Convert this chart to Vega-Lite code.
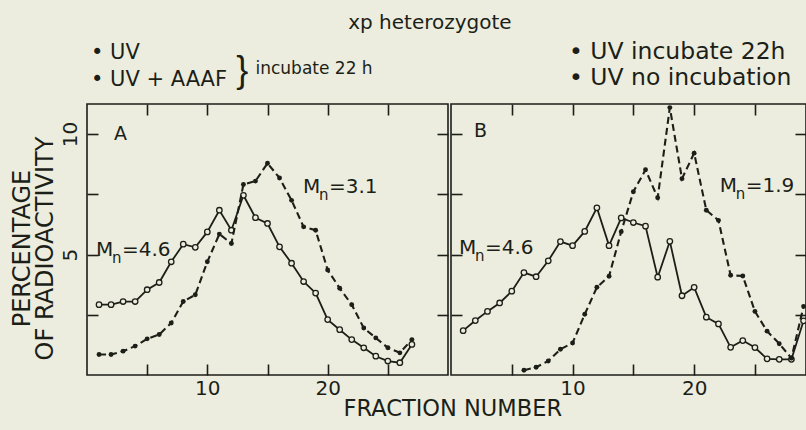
{
  "$schema": "https://vega.github.io/schema/vega-lite/v6.json",
  "background": "#ecedde",
  "padding": {"left": 9, "top": 12, "right": 0, "bottom": 16},
  "bounds": "flush",
  "spacing": 3,
  "config": {
    "view": {"stroke": "#1c1f18", "strokeWidth": 1.6},
    "axis": {"domain": false, "grid": false, "tickColor": "#1c1f18", "tickWidth": 1.6, "tickSize": -11, "labelFont": "DejaVu Sans", "labelFontSize": 20, "labelColor": "#1c1f18", "titleFont": "DejaVu Sans", "titleColor": "#1c1f18", "titleFontWeight": "normal"},
    "text": {"color": "#1c1f18", "font": "DejaVu Sans"}
  },
  "datasets": {
    "A": [
      {"series": "UV", "fraction": 1, "pct": 2.92}, {"series": "UV", "fraction": 2, "pct": 2.92}, {"series": "UV", "fraction": 3, "pct": 3.05}, {"series": "UV", "fraction": 4, "pct": 3.05}, {"series": "UV", "fraction": 5, "pct": 3.54}, {"series": "UV", "fraction": 6, "pct": 3.84}, {"series": "UV", "fraction": 7, "pct": 4.70}, {"series": "UV", "fraction": 8, "pct": 5.43}, {"series": "UV", "fraction": 9, "pct": 5.30}, {"series": "UV", "fraction": 10, "pct": 5.94}, {"series": "UV", "fraction": 11, "pct": 6.84}, {"series": "UV", "fraction": 12, "pct": 6.01}, {"series": "UV", "fraction": 13, "pct": 7.46}, {"series": "UV", "fraction": 14, "pct": 6.53}, {"series": "UV", "fraction": 15, "pct": 6.29}, {"series": "UV", "fraction": 16, "pct": 5.32}, {"series": "UV", "fraction": 17, "pct": 4.64}, {"series": "UV", "fraction": 18, "pct": 3.88}, {"series": "UV", "fraction": 19, "pct": 3.40}, {"series": "UV", "fraction": 20, "pct": 2.30}, {"series": "UV", "fraction": 21, "pct": 1.88}, {"series": "UV", "fraction": 22, "pct": 1.47}, {"series": "UV", "fraction": 23, "pct": 1.13}, {"series": "UV", "fraction": 24, "pct": 0.78}, {"series": "UV", "fraction": 25, "pct": 0.58}, {"series": "UV", "fraction": 26, "pct": 0.51}, {"series": "UV", "fraction": 27, "pct": 1.27},
      {"series": "UV+AAAF", "fraction": 1, "pct": 0.85}, {"series": "UV+AAAF", "fraction": 2, "pct": 0.85}, {"series": "UV+AAAF", "fraction": 3, "pct": 0.99}, {"series": "UV+AAAF", "fraction": 4, "pct": 1.20}, {"series": "UV+AAAF", "fraction": 5, "pct": 1.50}, {"series": "UV+AAAF", "fraction": 6, "pct": 1.68}, {"series": "UV+AAAF", "fraction": 7, "pct": 2.16}, {"series": "UV+AAAF", "fraction": 8, "pct": 3.05}, {"series": "UV+AAAF", "fraction": 9, "pct": 3.33}, {"series": "UV+AAAF", "fraction": 10, "pct": 4.70}, {"series": "UV+AAAF", "fraction": 11, "pct": 5.85}, {"series": "UV+AAAF", "fraction": 12, "pct": 5.46}, {"series": "UV+AAAF", "fraction": 13, "pct": 7.91}, {"series": "UV+AAAF", "fraction": 14, "pct": 8.05}, {"series": "UV+AAAF", "fraction": 15, "pct": 8.79}, {"series": "UV+AAAF", "fraction": 16, "pct": 8.18}, {"series": "UV+AAAF", "fraction": 17, "pct": 7.25}, {"series": "UV+AAAF", "fraction": 18, "pct": 6.15}, {"series": "UV+AAAF", "fraction": 19, "pct": 6.01}, {"series": "UV+AAAF", "fraction": 20, "pct": 4.36}, {"series": "UV+AAAF", "fraction": 21, "pct": 3.60}, {"series": "UV+AAAF", "fraction": 22, "pct": 2.92}, {"series": "UV+AAAF", "fraction": 23, "pct": 1.95}, {"series": "UV+AAAF", "fraction": 24, "pct": 1.54}, {"series": "UV+AAAF", "fraction": 25, "pct": 1.13}, {"series": "UV+AAAF", "fraction": 26, "pct": 0.92}, {"series": "UV+AAAF", "fraction": 27, "pct": 1.47}
    ],
    "B": [
      {"series": "UV incubate 22h", "fraction": 1, "pct": 1.84}, {"series": "UV incubate 22h", "fraction": 2, "pct": 2.26}, {"series": "UV incubate 22h", "fraction": 3, "pct": 2.64}, {"series": "UV incubate 22h", "fraction": 4, "pct": 2.99}, {"series": "UV incubate 22h", "fraction": 5, "pct": 3.48}, {"series": "UV incubate 22h", "fraction": 6, "pct": 4.25}, {"series": "UV incubate 22h", "fraction": 7, "pct": 4.08}, {"series": "UV incubate 22h", "fraction": 8, "pct": 4.74}, {"series": "UV incubate 22h", "fraction": 9, "pct": 5.54}, {"series": "UV incubate 22h", "fraction": 10, "pct": 5.37}, {"series": "UV incubate 22h", "fraction": 11, "pct": 5.96}, {"series": "UV incubate 22h", "fraction": 12, "pct": 6.94}, {"series": "UV incubate 22h", "fraction": 13, "pct": 5.37}, {"series": "UV incubate 22h", "fraction": 14, "pct": 6.52}, {"series": "UV incubate 22h", "fraction": 15, "pct": 6.33}, {"series": "UV incubate 22h", "fraction": 16, "pct": 6.18}, {"series": "UV incubate 22h", "fraction": 17, "pct": 4.06}, {"series": "UV incubate 22h", "fraction": 18, "pct": 5.55}, {"series": "UV incubate 22h", "fraction": 19, "pct": 3.29}, {"series": "UV incubate 22h", "fraction": 20, "pct": 3.64}, {"series": "UV incubate 22h", "fraction": 21, "pct": 2.40}, {"series": "UV incubate 22h", "fraction": 22, "pct": 2.12}, {"series": "UV incubate 22h", "fraction": 23, "pct": 1.15}, {"series": "UV incubate 22h", "fraction": 24, "pct": 1.43}, {"series": "UV incubate 22h", "fraction": 25, "pct": 1.14}, {"series": "UV incubate 22h", "fraction": 26, "pct": 0.67}, {"series": "UV incubate 22h", "fraction": 27, "pct": 0.65}, {"series": "UV incubate 22h", "fraction": 28, "pct": 0.65}, {"series": "UV incubate 22h", "fraction": 29, "pct": 2.25},
      {"series": "UV no incubation", "fraction": 6, "pct": 0.20}, {"series": "UV no incubation", "fraction": 7, "pct": 0.32}, {"series": "UV no incubation", "fraction": 8, "pct": 0.58}, {"series": "UV no incubation", "fraction": 9, "pct": 1.07}, {"series": "UV no incubation", "fraction": 10, "pct": 1.33}, {"series": "UV no incubation", "fraction": 11, "pct": 2.52}, {"series": "UV no incubation", "fraction": 12, "pct": 3.64}, {"series": "UV no incubation", "fraction": 13, "pct": 4.10}, {"series": "UV no incubation", "fraction": 14, "pct": 5.95}, {"series": "UV no incubation", "fraction": 15, "pct": 7.61}, {"series": "UV no incubation", "fraction": 16, "pct": 8.52}, {"series": "UV no incubation", "fraction": 17, "pct": 7.36}, {"series": "UV no incubation", "fraction": 18, "pct": 11.10}, {"series": "UV no incubation", "fraction": 19, "pct": 8.15}, {"series": "UV no incubation", "fraction": 20, "pct": 9.21}, {"series": "UV no incubation", "fraction": 21, "pct": 6.84}, {"series": "UV no incubation", "fraction": 22, "pct": 6.42}, {"series": "UV no incubation", "fraction": 23, "pct": 4.14}, {"series": "UV no incubation", "fraction": 24, "pct": 4.11}, {"series": "UV no incubation", "fraction": 25, "pct": 2.64}, {"series": "UV no incubation", "fraction": 26, "pct": 1.82}, {"series": "UV no incubation", "fraction": 27, "pct": 1.30}, {"series": "UV no incubation", "fraction": 28, "pct": 0.70}, {"series": "UV no incubation", "fraction": 29, "pct": 2.85}
    ]
  },
  "hconcat": [
    {
      "width": 361, "height": 271,
      "data": {"name": "A"},
      "resolve": {"axis": {"x": "independent", "y": "independent"}},
      "layer": [
        {
          "transform": [{"filter": "datum.series == 'UV'"}],
          "mark": {"type": "line", "color": "#1c1f18", "strokeWidth": 1.8, "point": {"filled": false, "fill": "#ecedde", "stroke": "#1c1f18", "strokeWidth": 1.3, "size": 30}},
          "encoding": {
            "x": {"field": "fraction", "type": "quantitative", "scale": {"domain": [0, 30], "nice": false, "zero": false}, "axis": {"orient": "bottom", "values": [5, 10, 15, 20, 25], "labelExpr": "datum.value % 10 == 0 ? datum.label : ''", "labelPadding": 14, "title": null}},
            "y": {"field": "pct", "type": "quantitative", "scale": {"domain": [0, 11.25], "nice": false, "zero": false}, "axis": {"orient": "left", "values": [2.5, 5, 7.5, 10], "labelExpr": "datum.value % 5 == 0 ? datum.label : ''", "labelAngle": -90, "labelPadding": 18, "title": ["PERCENTAGE", "OF RADIOACTIVITY"], "titleFontSize": 24, "titlePadding": 3, "titleLineHeight": 23, "titleY": 144}}
          }
        },
        {
          "transform": [{"filter": "datum.series == 'UV+AAAF'"}],
          "mark": {"type": "line", "color": "#1c1f18", "strokeWidth": 2.1, "strokeDash": [7, 4], "point": {"filled": true, "color": "#1c1f18", "size": 24}},
          "encoding": {
            "x": {"field": "fraction", "type": "quantitative", "scale": {"domain": [0, 30], "nice": false, "zero": false}, "axis": {"orient": "top", "values": [5, 10, 15, 20, 25], "labels": false, "title": null}},
            "y": {"field": "pct", "type": "quantitative", "scale": {"domain": [0, 11.25], "nice": false, "zero": false}, "axis": {"orient": "right", "values": [2.5, 5, 7.5, 10], "labels": false, "title": null}}
          }
        },
        {"data": {"values": [{}]}, "mark": {"type": "text", "text": "xp heterozygote", "align": "center", "baseline": "middle", "fontSize": 20},
         "encoding": {"x": {"datum": 28.5, "type": "quantitative", "scale": {"domain": [0, 30], "nice": false, "zero": false}, "axis": null}, "y": {"datum": 14.6, "type": "quantitative", "scale": {"domain": [0, 11.25], "nice": false, "zero": false}, "axis": null}}},
        {"data": {"values": [{}]}, "mark": {"type": "text", "text": "• UV", "align": "left", "baseline": "middle", "fontSize": 21},
         "encoding": {"x": {"datum": 0.33, "type": "quantitative", "scale": {"domain": [0, 30], "nice": false, "zero": false}, "axis": null}, "y": {"datum": 13.37, "type": "quantitative", "scale": {"domain": [0, 11.25], "nice": false, "zero": false}, "axis": null}}},
        {"data": {"values": [{}]}, "mark": {"type": "text", "text": "• UV + AAAF", "align": "left", "baseline": "middle", "fontSize": 21},
         "encoding": {"x": {"datum": 0.33, "type": "quantitative", "scale": {"domain": [0, 30], "nice": false, "zero": false}, "axis": null}, "y": {"datum": 12.25, "type": "quantitative", "scale": {"domain": [0, 11.25], "nice": false, "zero": false}, "axis": null}}},
        {"data": {"values": [{}]}, "mark": {"type": "text", "text": "}", "align": "left", "baseline": "middle", "fontSize": 36, "font": "Liberation Sans"},
         "encoding": {"x": {"datum": 12.4, "type": "quantitative", "scale": {"domain": [0, 30], "nice": false, "zero": false}, "axis": null}, "y": {"datum": 12.62, "type": "quantitative", "scale": {"domain": [0, 11.25], "nice": false, "zero": false}, "axis": null}}},
        {"data": {"values": [{}]}, "mark": {"type": "text", "text": "incubate 22 h", "align": "left", "baseline": "middle", "fontSize": 17},
         "encoding": {"x": {"datum": 14.0, "type": "quantitative", "scale": {"domain": [0, 30], "nice": false, "zero": false}, "axis": null}, "y": {"datum": 12.7, "type": "quantitative", "scale": {"domain": [0, 11.25], "nice": false, "zero": false}, "axis": null}}},
        {"data": {"values": [{}]}, "mark": {"type": "text", "text": "FRACTION NUMBER", "align": "center", "baseline": "middle", "fontSize": 22.5},
         "encoding": {"x": {"datum": 30.4, "type": "quantitative", "scale": {"domain": [0, 30], "nice": false, "zero": false}, "axis": null}, "y": {"datum": -1.42, "type": "quantitative", "scale": {"domain": [0, 11.25], "nice": false, "zero": false}, "axis": null}}},
        {"data": {"values": [{}]}, "mark": {"type": "text", "text": "A", "align": "left", "baseline": "middle", "fontSize": 19},
         "encoding": {"x": {"datum": 2.24, "type": "quantitative", "scale": {"domain": [0, 30], "nice": false, "zero": false}, "axis": null}, "y": {"datum": 10.0, "type": "quantitative", "scale": {"domain": [0, 11.25], "nice": false, "zero": false}, "axis": null}}},
        {"data": {"values": [{}]}, "mark": {"type": "text", "text": "M", "align": "left", "baseline": "middle", "fontSize": 20},
         "encoding": {"x": {"datum": 0.75, "type": "quantitative", "scale": {"domain": [0, 30], "nice": false, "zero": false}, "axis": null}, "y": {"datum": 5.19, "type": "quantitative", "scale": {"domain": [0, 11.25], "nice": false, "zero": false}, "axis": null}}},
        {"data": {"values": [{}]}, "mark": {"type": "text", "text": "n", "align": "left", "baseline": "middle", "fontSize": 15, "dx": 16, "dy": 8},
         "encoding": {"x": {"datum": 0.75, "type": "quantitative", "scale": {"domain": [0, 30], "nice": false, "zero": false}, "axis": null}, "y": {"datum": 5.19, "type": "quantitative", "scale": {"domain": [0, 11.25], "nice": false, "zero": false}, "axis": null}}},
        {"data": {"values": [{}]}, "mark": {"type": "text", "text": "=4.6", "align": "left", "baseline": "middle", "fontSize": 20, "dx": 26},
         "encoding": {"x": {"datum": 0.75, "type": "quantitative", "scale": {"domain": [0, 30], "nice": false, "zero": false}, "axis": null}, "y": {"datum": 5.19, "type": "quantitative", "scale": {"domain": [0, 11.25], "nice": false, "zero": false}, "axis": null}}},
        {"data": {"values": [{}]}, "mark": {"type": "text", "text": "M", "align": "left", "baseline": "middle", "fontSize": 20},
         "encoding": {"x": {"datum": 17.95, "type": "quantitative", "scale": {"domain": [0, 30], "nice": false, "zero": false}, "axis": null}, "y": {"datum": 7.8, "type": "quantitative", "scale": {"domain": [0, 11.25], "nice": false, "zero": false}, "axis": null}}},
        {"data": {"values": [{}]}, "mark": {"type": "text", "text": "n", "align": "left", "baseline": "middle", "fontSize": 15, "dx": 16, "dy": 8},
         "encoding": {"x": {"datum": 17.95, "type": "quantitative", "scale": {"domain": [0, 30], "nice": false, "zero": false}, "axis": null}, "y": {"datum": 7.8, "type": "quantitative", "scale": {"domain": [0, 11.25], "nice": false, "zero": false}, "axis": null}}},
        {"data": {"values": [{}]}, "mark": {"type": "text", "text": "=3.1", "align": "left", "baseline": "middle", "fontSize": 20, "dx": 26},
         "encoding": {"x": {"datum": 17.95, "type": "quantitative", "scale": {"domain": [0, 30], "nice": false, "zero": false}, "axis": null}, "y": {"datum": 7.8, "type": "quantitative", "scale": {"domain": [0, 11.25], "nice": false, "zero": false}, "axis": null}}}
      ]
    },
    {
      "width": 355, "height": 271,
      "data": {"name": "B"},
      "resolve": {"axis": {"x": "independent", "y": "independent"}},
      "layer": [
        {
          "transform": [{"filter": "datum.series == 'UV incubate 22h'"}],
          "mark": {"type": "line", "color": "#1c1f18", "strokeWidth": 1.8, "point": {"filled": false, "fill": "#ecedde", "stroke": "#1c1f18", "strokeWidth": 1.3, "size": 30}},
          "encoding": {
            "x": {"field": "fraction", "type": "quantitative", "scale": {"domain": [0, 29.2], "nice": false, "zero": false}, "axis": {"orient": "bottom", "values": [5, 10, 15, 20, 25], "labelExpr": "datum.value % 10 == 0 ? datum.label : ''", "labelPadding": 14, "title": null}},
            "y": {"field": "pct", "type": "quantitative", "scale": {"domain": [0, 11.25], "nice": false, "zero": false}, "axis": {"orient": "left", "values": [2.5, 5, 7.5, 10], "labels": false, "title": null}}
          }
        },
        {
          "transform": [{"filter": "datum.series == 'UV no incubation'"}],
          "mark": {"type": "line", "color": "#1c1f18", "strokeWidth": 2.1, "strokeDash": [7, 4], "point": {"filled": true, "color": "#1c1f18", "size": 24}},
          "encoding": {
            "x": {"field": "fraction", "type": "quantitative", "scale": {"domain": [0, 29.2], "nice": false, "zero": false}, "axis": {"orient": "top", "values": [5, 10, 15, 20, 25], "labels": false, "title": null}},
            "y": {"field": "pct", "type": "quantitative", "scale": {"domain": [0, 11.25], "nice": false, "zero": false}, "axis": {"orient": "right", "values": [2.5, 5, 7.5, 10], "labels": false, "title": null}}
          }
        },
        {"data": {"values": [{}]}, "mark": {"type": "text", "text": "• UV incubate 22h", "align": "left", "baseline": "middle", "fontSize": 23.5},
         "encoding": {"x": {"datum": 9.7, "type": "quantitative", "scale": {"domain": [0, 29.2], "nice": false, "zero": false}, "axis": null}, "y": {"datum": 13.4, "type": "quantitative", "scale": {"domain": [0, 11.25], "nice": false, "zero": false}, "axis": null}}},
        {"data": {"values": [{}]}, "mark": {"type": "text", "text": "• UV no incubation", "align": "left", "baseline": "middle", "fontSize": 23.5},
         "encoding": {"x": {"datum": 9.7, "type": "quantitative", "scale": {"domain": [0, 29.2], "nice": false, "zero": false}, "axis": null}, "y": {"datum": 12.33, "type": "quantitative", "scale": {"domain": [0, 11.25], "nice": false, "zero": false}, "axis": null}}},
        {"data": {"values": [{}]}, "mark": {"type": "text", "text": "B", "align": "left", "baseline": "middle", "fontSize": 19},
         "encoding": {"x": {"datum": 1.89, "type": "quantitative", "scale": {"domain": [0, 29.2], "nice": false, "zero": false}, "axis": null}, "y": {"datum": 10.13, "type": "quantitative", "scale": {"domain": [0, 11.25], "nice": false, "zero": false}, "axis": null}}},
        {"data": {"values": [{}]}, "mark": {"type": "text", "text": "M", "align": "left", "baseline": "middle", "fontSize": 20},
         "encoding": {"x": {"datum": 0.66, "type": "quantitative", "scale": {"domain": [0, 29.2], "nice": false, "zero": false}, "axis": null}, "y": {"datum": 5.27, "type": "quantitative", "scale": {"domain": [0, 11.25], "nice": false, "zero": false}, "axis": null}}},
        {"data": {"values": [{}]}, "mark": {"type": "text", "text": "n", "align": "left", "baseline": "middle", "fontSize": 15, "dx": 16, "dy": 8},
         "encoding": {"x": {"datum": 0.66, "type": "quantitative", "scale": {"domain": [0, 29.2], "nice": false, "zero": false}, "axis": null}, "y": {"datum": 5.27, "type": "quantitative", "scale": {"domain": [0, 11.25], "nice": false, "zero": false}, "axis": null}}},
        {"data": {"values": [{}]}, "mark": {"type": "text", "text": "=4.6", "align": "left", "baseline": "middle", "fontSize": 20, "dx": 26},
         "encoding": {"x": {"datum": 0.66, "type": "quantitative", "scale": {"domain": [0, 29.2], "nice": false, "zero": false}, "axis": null}, "y": {"datum": 5.27, "type": "quantitative", "scale": {"domain": [0, 11.25], "nice": false, "zero": false}, "axis": null}}},
        {"data": {"values": [{}]}, "mark": {"type": "text", "text": "M", "align": "left", "baseline": "middle", "fontSize": 20},
         "encoding": {"x": {"datum": 22.1, "type": "quantitative", "scale": {"domain": [0, 29.2], "nice": false, "zero": false}, "axis": null}, "y": {"datum": 7.85, "type": "quantitative", "scale": {"domain": [0, 11.25], "nice": false, "zero": false}, "axis": null}}},
        {"data": {"values": [{}]}, "mark": {"type": "text", "text": "n", "align": "left", "baseline": "middle", "fontSize": 15, "dx": 16, "dy": 8},
         "encoding": {"x": {"datum": 22.1, "type": "quantitative", "scale": {"domain": [0, 29.2], "nice": false, "zero": false}, "axis": null}, "y": {"datum": 7.85, "type": "quantitative", "scale": {"domain": [0, 11.25], "nice": false, "zero": false}, "axis": null}}},
        {"data": {"values": [{}]}, "mark": {"type": "text", "text": "=1.9", "align": "left", "baseline": "middle", "fontSize": 20, "dx": 26},
         "encoding": {"x": {"datum": 22.1, "type": "quantitative", "scale": {"domain": [0, 29.2], "nice": false, "zero": false}, "axis": null}, "y": {"datum": 7.85, "type": "quantitative", "scale": {"domain": [0, 11.25], "nice": false, "zero": false}, "axis": null}}}
      ]
    }
  ]
}
